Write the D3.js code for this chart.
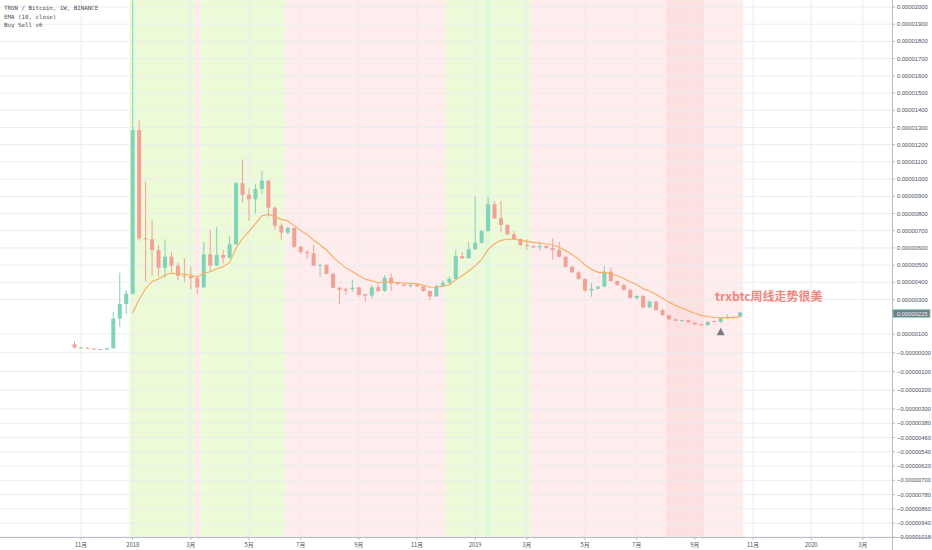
<!DOCTYPE html>
<html lang="en">
<head>
  <meta charset="UTF-8">
  <title>TRON / Bitcoin 1W</title>
  <style>
    body { margin: 0; padding: 0; background: #fff; }
    svg { display: block; }
  </style>
</head>
<body>

<script src="https://d3js.org/d3.v7.min.js"></script>

<script>
  // weekly candles, values in satoshi (1e-8 BTC), first week starts 2017-10-30
  const firstWeek = '2017-10-30';
  const open = [45,26,26,22,20,17,24,189,274,334,
    1285,656,650,588,485,549,497,439,435,424,
    371,563,497,559,543,621,976,909,883,942,
    991,834,729,689,716,607,576,569,497,502,
    449,369,360,360,371,331,323,371,350,427,
    395,389,381,386,377,350,319,379,398,420,
    553,540,592,630,698,854,772,733,679,652,
    617,611,604,611,600,588,549,491,458,420,
    352,363,375,462,408,385,356,309,321,255,
    288,239,209,185,177,181,166,156,151,176,
    170,191,199,203];
  const high = [60,30,30,23,21,26,230,456,356,2200,
    1343,985,762,617,650,578,514,540,491,437,
    634,704,720,588,669,985,1115,947,970,1047,
    995,840,743,725,720,610,588,617,505,505,
    456,375,367,414,373,333,385,395,443,452,
    402,395,392,395,377,352,389,414,433,588,
    578,636,898,705,898,873,873,740,698,655,
    650,615,636,615,656,636,555,498,465,425,
    395,380,495,488,410,390,362,325,326,295,
    292,246,212,190,184,182,168,160,173,178,
    195,216,203,228];
  const low = [20,24,20,18,16,15,22,142,216,330,
    642,404,439,433,424,454,414,404,360,332,
    368,462,494,511,540,618,863,758,801,912,
    782,708,646,680,600,565,536,495,433,447,
    367,273,327,346,317,288,307,345,345,350,
    385,376,369,372,345,298,316,376,393,417,
    536,540,590,625,695,770,694,676,650,612,
    589,600,584,595,530,545,485,455,415,345,
    317,360,372,405,380,352,305,300,250,250,
    235,205,180,174,172,165,153,148,149,166,
    165,190,190,198];
  const close = [28,28,22,19,17,24,189,274,334,1285,
    656,650,588,485,549,497,439,435,424,371,
    563,497,559,543,621,976,909,883,942,991,
    834,729,689,716,607,576,569,497,502,449,
    369,357,352,369,327,323,371,350,427,395,
    389,381,386,377,350,319,379,398,420,553,
    540,592,630,698,854,772,733,679,652,617,
    611,604,611,600,588,549,491,458,420,352,
    363,375,462,408,385,356,309,321,255,288,
    239,209,185,177,181,168,156,151,171,170,
    191,199,193,225];

  // Buy Sell v6 background: first week index, last week index, kind
  const signalStart = [9, 19, 20, 33, 58, 64, 65, 71, 92, 98];
  const signalEnd   = [18, 19, 32, 57, 63, 64, 70, 91, 97, 103];
  const signalKind  = ['buy', 'sell', 'buy', 'sell', 'buy', 'strongBuy', 'buy', 'sell', 'strongSell', 'sell'];

  // axis ticks
  const monthTicks = ['2017-11-06','2018-01-01','2018-03-05','2018-05-07','2018-07-02','2018-09-03',
    '2018-11-05','2019-01-07','2019-03-04','2019-05-06','2019-07-01','2019-09-02',
    '2019-11-04','2020-01-06','2020-03-02'];
  const monthLabels = ['11月','2018','3月','5月','7月','9月','11月','2019','3月','5月','7月','9月','11月','2020','3月'];
  const priceTicks = [2000,1900,1800,1700,1600,1500,1400,1300,1200,1100,1000,900,800,700,600,500,400,300,100,
    0,-100,-200,-300,-380,-460,-540,-620,-700,-780,-860,-940,-1018];

  const legendLines = ['TRON / Bitcoin, 1W, BINANCE', 'EMA (10, close)', 'Buy Sell v6'];
  const note = 'trxbtc周线走势很美';
  const noteWeek = 100;   // week the grey marker sits under

  const W = 932, H = 550;
  const plotRight = 892, plotBottom = 537;
  const parse = d3.utcParse('%Y-%m-%d');
  const start = parse(firstWeek);
  const weekDate = i => d3.utcDay.offset(start, 7 * i);

  const x = d3.scaleUtc()
    .domain([parse('2017-11-06'), parse('2019-11-04')])
    .range([81, 753]);
  const y = d3.scaleLinear()
    .domain([2000, 100, -300, -1018])
    .range([7, 334, 409, 537]);

  const half = (x(weekDate(1)) - x(weekDate(0))) / 2;
  const bodyW = 4;

  const svg = d3.select('body').append('svg')
    .attr('width', W)
    .attr('height', H);

  svg.append('defs').append('clipPath').attr('id', 'plot')
    .append('rect').attr('x', 0).attr('y', 0).attr('width', plotRight).attr('height', plotBottom);

  const plot = svg.append('g').attr('clip-path', 'url(#plot)');

  // background bands
  const bandColor = { buy: '#ecfad8', strongBuy: '#dff8d6', sell: '#ffecec', strongSell: '#fde0e0' };
  plot.selectAll('rect.band')
    .data(signalStart.map((s, i) => ({ s, e: signalEnd[i], kind: signalKind[i] })))
    .enter().append('rect')
    .attr('class', 'band')
    .attr('x', d => x(weekDate(d.s)) - half)
    .attr('y', 0)
    .attr('width', d => x(weekDate(d.e)) - x(weekDate(d.s)) + 2 * half)
    .attr('height', plotBottom)
    .attr('fill', d => bandColor[d.kind]);

  // grid
  plot.selectAll('line.vgrid')
    .data(monthTicks)
    .enter().append('line')
    .attr('x1', d => x(parse(d))).attr('x2', d => x(parse(d)))
    .attr('y1', 0).attr('y2', plotBottom)
    .attr('stroke', '#e9edf3').attr('stroke-width', 1);
  plot.selectAll('line.hgrid')
    .data(priceTicks)
    .enter().append('line')
    .attr('x1', 0).attr('x2', plotRight)
    .attr('y1', d => y(d)).attr('y2', d => y(d))
    .attr('stroke', '#e9edf3').attr('stroke-width', 1);

  // candles
  const candles = open.map((o, i) => ({ i, o, h: high[i], l: low[i], c: close[i], date: weekDate(i) }));
  const upColor = '#82d2b9', downColor = '#f2a196';

  const cg = plot.selectAll('g.candle')
    .data(candles)
    .enter().append('g')
    .attr('class', 'candle');

  cg.append('line')
    .attr('x1', d => x(d.date)).attr('x2', d => x(d.date))
    .attr('y1', d => y(d.h)).attr('y2', d => y(d.l))
    .attr('stroke', d => d.c >= d.o ? upColor : downColor)
    .attr('stroke-width', 1);

  cg.append('rect')
    .attr('x', d => x(d.date) - bodyW / 2)
    .attr('y', d => y(Math.max(d.o, d.c)))
    .attr('width', bodyW)
    .attr('height', d => Math.max(1, Math.abs(y(d.o) - y(d.c))))
    .attr('fill', d => d.c >= d.o ? upColor : downColor);

  // EMA (10, close), seeded with the simple average of the first 10 closes
  const alpha = 2 / 11;
  const ema = [];
  close.forEach((c, i) => {
    if (i < 9) return;
    const prev = i === 9 ? d3.mean(close.slice(0, 10)) : ema[ema.length - 1].v;
    ema.push({ i, v: i === 9 ? prev : prev + alpha * (c - prev) });
  });
  plot.append('path')
    .datum(ema)
    .attr('fill', 'none')
    .attr('stroke', '#f7ad5e')
    .attr('stroke-width', 1.1)
    .attr('d', d3.line().x(d => x(weekDate(d.i))).y(d => y(d.v)));

  // annotation
  plot.append('text')
    .attr('x', 715).attr('y', 300.5)
    .attr('font-family', "'Noto Sans CJK SC', 'Noto Sans', sans-serif")
    .attr('font-size', 12)
    .attr('font-weight', 'bold')
    .attr('fill', '#f0867d')
    .text(note);

  const mx = x(weekDate(noteWeek)), my = y(low[noteWeek]) + 5;
  plot.append('path')
    .attr('d', `M${mx},${my} l4,7.5 l-8,0 Z`)
    .attr('fill', '#787b86');

  // legend
  svg.selectAll('text.legend')
    .data(legendLines)
    .enter().append('text')
    .attr('x', 4)
    .attr('y', (d, i) => 10 + i * 8.5)
    .attr('font-family', "'DejaVu Sans Mono', monospace")
    .attr('font-size', 5.8)
    .attr('fill', '#4a4e59')
    .text(d => d);

  // right price axis
  const fmt = v => (v <= 0 ? '\u22120.' : '0.') + Math.abs(v * 1e-8).toFixed(8).slice(2);
  svg.append('line')
    .attr('x1', plotRight + 0.5).attr('x2', plotRight + 0.5)
    .attr('y1', 0).attr('y2', H)
    .attr('stroke', '#b8bcc4');
  const yt = svg.selectAll('g.ytick')
    .data(priceTicks)
    .enter().append('g')
    .attr('transform', d => `translate(${plotRight},${y(d)})`);
  yt.append('line').attr('x1', 0).attr('x2', 3).attr('stroke', '#b8bcc4');
  yt.append('text')
    .attr('x', 5).attr('dy', '0.35em')
    .attr('font-family', "'Liberation Sans', Arial, sans-serif")
    .attr('font-size', 5.8)
    .attr('fill', '#4c525e')
    .text(d => fmt(d));

  // last price label
  const last = close[close.length - 1];
  const lp = svg.append('g').attr('transform', `translate(${plotRight + 1},${y(last) + 1})`);
  lp.append('rect')
    .attr('x', 0).attr('y', -3.8).attr('width', 37).attr('height', 7.6)
    .attr('fill', '#737d89').attr('stroke', '#7ad2b7').attr('stroke-width', 0.8);
  lp.append('text')
    .attr('x', 4).attr('dy', '0.35em')
    .attr('font-family', "'Liberation Sans', Arial, sans-serif")
    .attr('font-size', 5.8)
    .attr('fill', '#eef2f4')
    .text(fmt(last));

  // bottom time axis
  svg.append('line')
    .attr('x1', 0).attr('x2', W)
    .attr('y1', plotBottom + 0.5).attr('y2', plotBottom + 0.5)
    .attr('stroke', '#b8bcc4');
  const xt = svg.selectAll('g.xtick')
    .data(monthTicks)
    .enter().append('g')
    .attr('transform', d => `translate(${x(parse(d))},${plotBottom})`);
  xt.append('line').attr('y1', 0).attr('y2', 3).attr('stroke', '#b8bcc4');
  xt.append('text')
    .attr('y', 9.5)
    .attr('text-anchor', 'middle')
    .attr('font-family', "'Noto Sans CJK SC', 'Liberation Sans', sans-serif")
    .attr('font-size', 5.8)
    .attr('fill', '#4c525e')
    .text((d, i) => monthLabels[i]);
</script>

</body>
</html>
